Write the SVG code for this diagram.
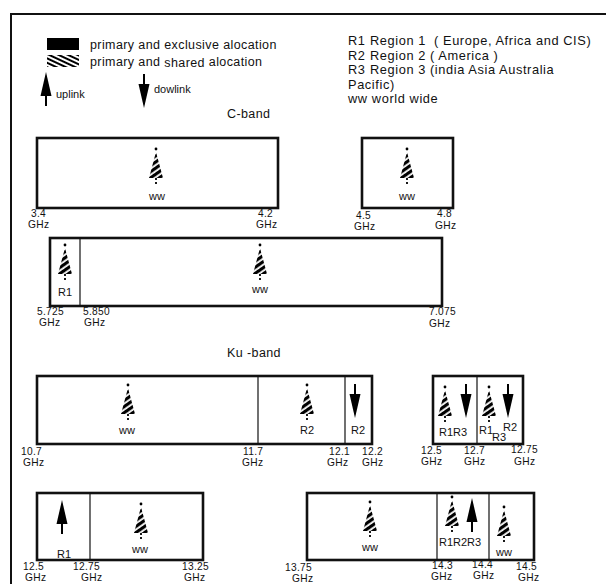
<svg xmlns="http://www.w3.org/2000/svg" width="606" height="584" viewBox="0 0 606 584">
<style>
text{font-family:"Liberation Sans",Arial,sans-serif;fill:#111}
.t{font-size:12.5px;letter-spacing:0.4px}
.r{font-size:12.8px;letter-spacing:0.6px}
.f{font-size:11px}
.g{font-size:10.2px;letter-spacing:0.3px}
.c{text-anchor:middle}
.band{fill:#fff;stroke:#111;stroke-width:2.6}
.div{stroke:#111;stroke-width:1.2}
</style>
<defs>
<pattern id="hl" width="4" height="4" patternUnits="userSpaceOnUse" patternTransform="rotate(25)"><rect width="4" height="2" fill="#000"/></pattern>
<pattern id="hi" width="5" height="5" patternUnits="userSpaceOnUse" patternTransform="rotate(-35)"><rect width="5" height="3.2" fill="#000"/></pattern>
<g id="hup"><circle cx="0" cy="-17" r="1.4" fill="#000"/><polygon points="0,-14 -7,12 7,12" fill="url(#hi)"/><line x1="0" y1="12" x2="0" y2="20" stroke="#000" stroke-width="1.8" stroke-dasharray="2,2"/></g>
<g id="sup"><polygon points="0,-16 -5.5,8 5.5,8" fill="#000"/><line x1="0" y1="6" x2="0" y2="18" stroke="#000" stroke-width="2"/></g>
<g id="sdn"><polygon points="0,16 -5.5,-8 5.5,-8" fill="#000"/><line x1="0" y1="-6" x2="0" y2="-18" stroke="#000" stroke-width="2"/></g>
</defs>

<path d="M11,584 V14 H606" fill="none" stroke="#111" stroke-width="2"/>

<g id="legend">
<rect x="47" y="38" width="32" height="12" fill="#000"/>
<text class="t" x="90" y="49">primary and exclusive alocation</text>
<rect x="47" y="55" width="32" height="12" fill="url(#hl)"/>
<text class="t" x="90" y="66">primary and <tspan dy="1">shared</tspan> <tspan dy="-1">alocation</tspan></text>
<use href="#sup" x="46" y="88"/>
<text class="f" x="56" y="98">uplink</text>
<use href="#sdn" x="144" y="92"/>
<text class="f" x="154" y="93">dowlink</text>
<text class="r" x="348" y="45">R1</text><text class="r" x="370" y="45">Region 1</text><text class="r" x="434" y="45">( Europe, Africa and CIS)</text>
<text class="r" x="348" y="59.5">R2</text><text class="r" x="370" y="59.5">Region 2</text><text class="r" x="430" y="59.5">( America )</text>
<text class="r" x="348" y="74">R3</text><text class="r" x="370" y="74">Region 3</text><text class="r" x="430" y="74">(india Asia Australia</text>
<text class="r" x="348" y="88.5">Pacific)</text>
<text class="r" x="348" y="103">ww world wide</text>
</g>

<text class="t" x="227" y="118">C-band</text>

<g id="c1">
<rect class="band" x="37" y="138" width="241" height="70"/>
<use href="#hup" x="156" y="166"/>
<text class="f c" x="157" y="200">ww</text>
</g>
<g id="c2">
<rect class="band" x="362" y="138" width="91" height="70"/>
<use href="#hup" x="407" y="166"/>
<text class="f c" x="407" y="200">ww</text>
</g>
<g id="c1lbl" class="g">
<text x="31" y="217">3.4</text><text x="28" y="228">GHz</text>
<text x="258" y="217">4.2</text><text x="256" y="228">GHz</text>
<text x="356" y="219">4.5</text><text x="354" y="230">GHz</text>
<text x="437" y="217">4.8</text><text x="435" y="228.5">GHz</text>
</g>

<g id="c3">
<rect class="band" x="50" y="238" width="392" height="68"/>
<line class="div" x1="80" y1="238" x2="80" y2="306"/>
<use href="#hup" x="65" y="262"/>
<text class="f c" x="65" y="296">R1</text>
<use href="#hup" x="260" y="262"/>
<text class="f c" x="260" y="293">ww</text>
</g>
<g id="c3lbl" class="g">
<text x="37" y="315">5.725</text><text x="39" y="326">GHz</text>
<text x="83" y="315">5.850</text><text x="84" y="326">GHz</text>
<text x="429" y="315">7.075</text><text x="429" y="326.5">GHz</text>
</g>

<text class="t" x="227" y="357">Ku -band</text>

<g id="k1">
<rect class="band" x="37" y="376" width="335" height="68"/>
<line class="div" x1="258" y1="376" x2="258" y2="444"/>
<line class="div" x1="345" y1="376" x2="345" y2="444"/>
<use href="#hup" x="128" y="402"/>
<text class="f c" x="127" y="434">ww</text>
<use href="#hup" x="307" y="402"/>
<text class="f c" x="307" y="434">R2</text>
<use href="#sdn" x="355" y="402"/>
<text class="f c" x="358" y="434">R2</text>
</g>
<g id="k2">
<rect class="band" x="433" y="376" width="90" height="68"/>
<line class="div" x1="477" y1="376" x2="477" y2="444"/>
<use href="#hup" x="445" y="404"/>
<use href="#sdn" x="466" y="402"/>
<text class="f" x="439" y="436">R1R3</text>
<use href="#hup" x="489" y="404"/>
<use href="#sdn" x="508" y="402"/>
<text class="f" x="479" y="434">R1</text>
<text class="f" x="492" y="441">R3</text>
<text class="f" x="503" y="431">R2</text>
</g>
<g id="k1lbl" class="g">
<text x="21" y="455">10.7</text><text x="23" y="466">GHz</text>
<text x="243" y="455">11.7</text><text x="242" y="466">GHz</text>
<text x="329" y="455">12.1</text><text x="327" y="466">GHz</text>
<text x="362" y="455">12.2</text><text x="362" y="466">GHz</text>
<text x="421" y="454">12.5</text><text x="421" y="465">GHz</text>
<text x="464" y="454">12.7</text><text x="464" y="465">GHz</text>
<text x="511" y="453">12.75</text><text x="514" y="464.5">GHz</text>
</g>

<g id="k3">
<rect class="band" x="37" y="493" width="166" height="67"/>
<line class="div" x1="90" y1="493" x2="90" y2="560"/>
<use href="#sup" x="62" y="516"/>
<text class="f c" x="64" y="558">R1</text>
<use href="#hup" x="141" y="521"/>
<text class="f c" x="140" y="553">ww</text>
</g>
<g id="k4">
<rect class="band" x="307" y="493" width="227" height="67"/>
<line class="div" x1="437" y1="493" x2="437" y2="560"/>
<line class="div" x1="489" y1="493" x2="489" y2="560"/>
<use href="#hup" x="370" y="519"/>
<text class="f c" x="370" y="551">ww</text>
<use href="#hup" x="452" y="514"/>
<use href="#sup" x="472" y="514"/>
<text class="f" x="439" y="546">R1R2R3</text>
<use href="#hup" x="504" y="524"/>
<text class="f c" x="504" y="556">ww</text>
</g>
<g id="k3lbl" class="g">
<text x="23" y="570">12.5</text><text x="25" y="581">GHz</text>
<text x="73" y="570">12.75</text><text x="81" y="581">GHz</text>
<text x="182" y="570">13.25</text><text x="184" y="581">GHz</text>
<text x="285" y="571">13.75</text><text x="292" y="582">GHz</text>
<text x="432" y="569">14.3</text><text x="431" y="580">GHz</text>
<text x="472" y="568">14.4</text><text x="473" y="579">GHz</text>
<text x="516" y="570">14.5</text><text x="518" y="581">GHz</text>
</g>
</svg>
